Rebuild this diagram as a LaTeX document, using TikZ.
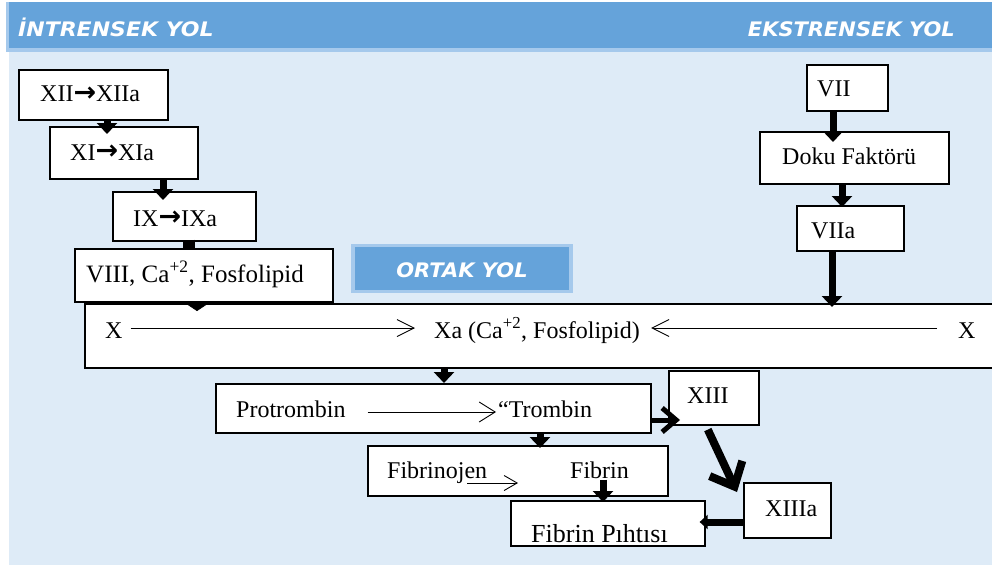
\documentclass[tikz,border=0pt]{standalone}
\usepackage{graphicx}
\usepackage{fontspec}
\setmainfont{Liberation Serif}
\newfontfamily\hdrfont{DejaVu Sans}
\usetikzlibrary{arrows.meta,calc}
\definecolor{hdrblue}{RGB}{101,163,218}
\definecolor{hdrlight}{RGB}{165,201,236}
\definecolor{bgblue}{RGB}{222,235,247}
\newcommand\rarr{{\hdrfont\bfseries\fontsize{27}{28}\selectfont\raisebox{0.5pt}{→}}}
\tikzset{
  box/.style={draw=black, fill=white, line width=1.6pt, inner sep=0pt, anchor=north west},
  txt/.style={font=\fontsize{24}{28}\selectfont, inner sep=0pt, anchor=base west},
  hdr/.style={font=\hdrfont\bfseries\itshape\fontsize{20}{24}\selectfont, text=white, inner sep=0pt},
  fatarrow/.style={line width=7pt, -{Triangle[length=11pt,width=20pt]}},
  thinarrow/.style={line width=0.9pt, -{Straight Barb[length=17pt,width=17pt]}},
}
\begin{document}
\begin{tikzpicture}[x=1pt,y=-1pt]
\useasboundingbox (0,0) rectangle (992,567);
\clip (0,0) rectangle (992,567);
% backgrounds
\fill[bgblue] (9,52) rectangle (992,565);
\fill[hdrlight] (6,2) rectangle (992,52);
\fill[hdrblue] (9,2) rectangle (992,48);
\node[hdr, anchor=base west] (hint) at (18,37) {\scalebox{1.1}[1]{İNTRENSEK YOL}};
\node[hdr, anchor=base east] (hext) at (955,37) {\scalebox{1.05}[1]{EKSTRENSEK YOL}};
% badge
\fill[hdrlight] (351,244) rectangle (573,293);
\fill[hdrblue] (355,247) rectangle (569,290);
\node[hdr, anchor=base] (ortak) at (462,277) {\scalebox{1.05}[1]{ORTAK YOL}};

% boxes
\node[box, minimum width=149pt, minimum height=50pt] (xii) at (18,69) {};
\node[box, minimum width=148pt, minimum height=52pt] (xi) at (49,126) {};
\node[box, minimum width=143pt, minimum height=49pt] (ix) at (112,191) {};
\node[box, minimum width=258pt, minimum height=53pt] (viii) at (74,248) {};
\node[box, minimum width=930pt, minimum height=64pt] (xbox) at (84,303) {};
\node[box, minimum width=81pt, minimum height=46pt] (vii) at (806,64) {};
\node[box, minimum width=189pt, minimum height=52pt] (doku) at (759,131) {};
\node[box, minimum width=107pt, minimum height=45pt] (viia) at (796,205) {};
\node[box, minimum width=435pt, minimum height=49pt] (prot) at (215,383) {};
\node[box, minimum width=90pt, minimum height=54pt] (xiii) at (668,370) {};
\node[box, minimum width=300pt, minimum height=50pt] (fibj) at (367,445) {};
\node[box, minimum width=194pt, minimum height=45pt] (fpih) at (510,500) {};
\node[box, minimum width=87pt, minimum height=55pt] (xiiia) at (743,482) {};

% texts
\node[txt] (txii) at (40,102) {XII\rarr XIIa};
\node[txt] (txi) at (70,160) {XI\rarr XIa};
\node[txt] (tix) at (133,226) {IX\rarr IXa};
\node[txt, font=\fontsize{25}{28}\selectfont] (tviii) at (86,282) {VIII, Ca\textsuperscript{+2}, Fosfolipid};
\node[txt] (tvii) at (817,97) {VII};
\node[txt] (tdoku) at (782,164) {Doku Faktörü};
\node[txt] (tviia) at (811,238) {VIIa};
\node[txt] (xl) at (105,338) {X};
\node[txt] (xa) at (434,338) {Xa (Ca\textsuperscript{+2}, Fosfolipid)};
\node[txt] (xr) at (958,338) {X};
\node[txt] (tprot) at (236,417) {Protrombin};
\node[txt] (ttrom) at (498,417) {“Trombin};
\node[txt] (tfibj) at (387,478) {Fibrinojen};
\node[txt] (tfib) at (570,478) {Fibrin};
\node[txt, font=\fontsize{26}{28}\selectfont] (tfpih) at (531,542) {Fibrin Pıhtısı};
\node[txt] (txiii) at (687,403) {XIII};
\node[txt] (txiiia) at (765,516) {XIIIa};

% column / row markers
\coordinate (c1) at (107,0);
\coordinate (c2) at (163,0);
\coordinate (c3) at (189,0);
\coordinate (c4) at (197,0);
\coordinate (c5) at (833,0);
\coordinate (c6) at (842,0);
\coordinate (c7) at (832,0);
\coordinate (c8) at (444,0);
\coordinate (c9) at (540,0);
\coordinate (c10) at (603,0);
\coordinate (r0) at (0,328);
\coordinate (r1) at (0,412);
\coordinate (r2) at (0,483);
\coordinate (r11) at (0,420);
\coordinate (r13) at (0,522);
\coordinate (s10) at ([yshift=17pt]fibj.south -| c10);
\coordinate (s12) at ([xshift=-6pt,yshift=-4pt]xiii.south);
\coordinate (e12) at ([xshift=-6pt,yshift=-10pt]xiiia.north west);

% fat connectors
\draw[fatarrow, shorten >=-8pt] (xii.south -| c1) -- (xi.north -| c1);
\draw[fatarrow, shorten >=-9pt] (xi.south -| c2) -- (ix.north -| c2);
\draw[line width=12pt, shorten <=-2pt] (ix.south -| c3) -- (viii.north -| c3);
\draw[line width=0.5pt, -{Triangle[length=10pt,width=30pt]}, shorten >=-8pt] (viii.south -| c4) -- (xbox.north -| c4);
\draw[fatarrow, shorten >=-11pt] (vii.south -| c5) -- (doku.north -| c5);
\draw[fatarrow, shorten >=-2pt] (doku.south -| c6) -- (viia.north -| c6);
\draw[fatarrow, shorten >=-4pt] (viia.south -| c7) -- (xbox.north -| c7);
\draw[fatarrow] (xbox.south -| c8) -- (prot.north -| c8);
\draw[fatarrow, shorten >=-3pt] (prot.south -| c9) -- (fibj.north -| c9);
\draw[fatarrow, shorten >=-2pt] (s10) -- (fpih.north -| c10);
\draw[line width=5pt, line join=round, -{Straight Barb[length=14pt,width=24pt]}, shorten >=-12pt] (prot.east |- r11) -- (xiii.west |- r11);
\draw[line width=8pt, -{Straight Barb[length=20pt,width=36pt]}] (s12) -- (e12);
\draw[line width=7pt, -{Triangle[length=8pt,width=14pt]}, shorten >=-6pt] (xiiia.west |- r13) -- (fpih.east |- r13);

% thin reaction arrows
\draw[thinarrow, shorten <=8pt, shorten >=19pt] (xl.east |- r0) -- (xa.west |- r0);
\draw[thinarrow, shorten <=21pt, shorten >=11pt] (xr.west |- r0) -- (xa.east |- r0);
\draw[line width=0.9pt, -{Straight Barb[length=16pt,width=20pt]}, shorten <=22pt, shorten >=2pt] (tprot.east |- r1) -- (ttrom.west |- r1);
\draw[line width=0.9pt, -{Straight Barb[length=13pt,width=15pt]}, shorten <=-20pt, shorten >=52pt] (tfibj.east |- r2) -- (tfib.west |- r2);
\end{tikzpicture}
\end{document}
